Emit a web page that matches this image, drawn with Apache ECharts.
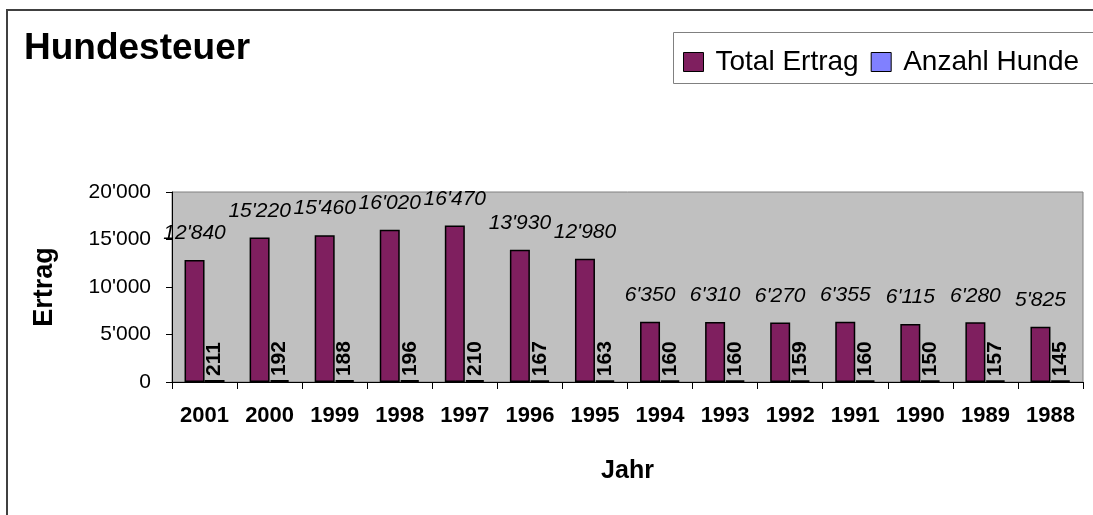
<!DOCTYPE html>
<html>
<head>
<meta charset="utf-8">
<script src="https://cdn.jsdelivr.net/npm/echarts@6/dist/echarts.min.js"></script>
<style>
  html, body { margin: 0; padding: 0; background: #fff; }
  #chart { width: 1093px; height: 515px; }
</style>
</head>
<body>
<div id="chart"></div>
<script>
var years = ['2001', '2000', '1999', '1998', '1997', '1996', '1995', '1994', '1993', '1992', '1991', '1990', '1989', '1988'];
var totalErtrag = [12840, 15220, 15460, 16020, 16470, 13930, 12980, 6350, 6310, 6270, 6355, 6115, 6280, 5825];
var anzahlHunde = [211, 192, 188, 196, 210, 167, 163, 160, 160, 159, 160, 150, 157, 145];
var yTicks = [0, 5000, 10000, 15000, 20000];

var font = '"Liberation Sans", Arial, sans-serif';

// 12840 -> 12'840
function swiss (v) {
  return String(v).replace(/\B(?=(\d{3})+(?!\d))/g, "'");
}

var myChart = echarts.init(document.getElementById('chart'));

var option = {
  animation: false,
  textStyle: { fontFamily: font },
  title: {
    text: 'Hundesteuer',
    left: 19,
    top: 25,
    textStyle: { fontSize: 37, fontWeight: 'bold', color: '#000', fontFamily: font }
  },
  graphic: [
    {
      type: 'rect',
      z: 0,
      shape: { x: 7, y: 10, width: 1200, height: 700 },
      style: { fill: 'none', stroke: '#404040', lineWidth: 2 }
    },
    {
      type: 'rect',
      z: 0,
      shape: { x: 673.5, y: 32.5, width: 600, height: 51 },
      style: { fill: '#fff', stroke: '#808080', lineWidth: 1 }
    }
  ],
  legend: {
    left: 683,
    top: 48,
    padding: 0,
    itemWidth: 20,
    itemHeight: 19,
    itemGap: 12,
    icon: 'rect',
    itemStyle: { borderColor: '#000', borderWidth: 1 },
    textStyle: { fontSize: 28, color: '#000', fontFamily: font, padding: [0, 0, 0, 7] },
    data: ['Total Ertrag', 'Anzahl Hunde']
  },
  grid: {
    show: true,
    left: 172,
    top: 192,
    right: 10,
    bottom: 133,
    backgroundColor: '#c0c0c0',
    borderColor: '#808080',
    borderWidth: 1
  },
  xAxis: {
    type: 'category',
    data: years,
    name: 'Jahr',
    nameLocation: 'middle',
    nameGap: 77,
    nameTextStyle: { fontSize: 25, fontWeight: 'bold', color: '#000', fontFamily: font },
    axisLine: { lineStyle: { color: '#000', width: 1 } },
    axisTick: { show: true, alignWithLabel: false, interval: 0, length: 7, lineStyle: { color: '#000' } },
    axisLabel: { interval: 0, margin: 23, fontSize: 22, fontWeight: 'bold', color: '#000', fontFamily: font },
    splitLine: { show: false }
  },
  yAxis: {
    type: 'value',
    min: yTicks[0],
    max: yTicks[yTicks.length - 1],
    interval: yTicks[1] - yTicks[0],
    name: 'Ertrag',
    nameLocation: 'middle',
    nameGap: 114,
    nameTextStyle: { fontSize: 27, fontWeight: 'bold', color: '#000', fontFamily: font },
    axisLine: { show: true, lineStyle: { color: '#000', width: 1 } },
    axisTick: { show: true, length: 6, lineStyle: { color: '#000' } },
    axisLabel: { margin: 21, fontSize: 21, color: '#000', fontFamily: font, formatter: swiss },
    splitLine: { show: false }
  },
  series: [
    {
      name: 'Total Ertrag',
      type: 'bar',
      data: totalErtrag,
      barWidth: 20,
      barGap: '0%',
      itemStyle: { color: '#7f1f5f', borderColor: '#000', borderWidth: 1.5 },
      label: {
        show: true,
        position: 'top',
        distance: 16,
        fontSize: 21,
        fontStyle: 'italic',
        color: '#000',
        fontFamily: font,
        formatter: function (p) { return swiss(p.value); }
      }
    },
    {
      name: 'Anzahl Hunde',
      type: 'bar',
      data: anzahlHunde,
      barWidth: 20,
      itemStyle: { color: '#8080ff', borderColor: '#000', borderWidth: 2 },
      label: {
        show: true,
        position: 'top',
        distance: 8,
        rotate: 90,
        align: 'left',
        verticalAlign: 'middle',
        offset: [-4, 0],
        fontSize: 21,
        fontWeight: 'bold',
        color: '#000',
        fontFamily: font
      }
    }
  ]
};

myChart.setOption(option);
</script>
</body>
</html>
